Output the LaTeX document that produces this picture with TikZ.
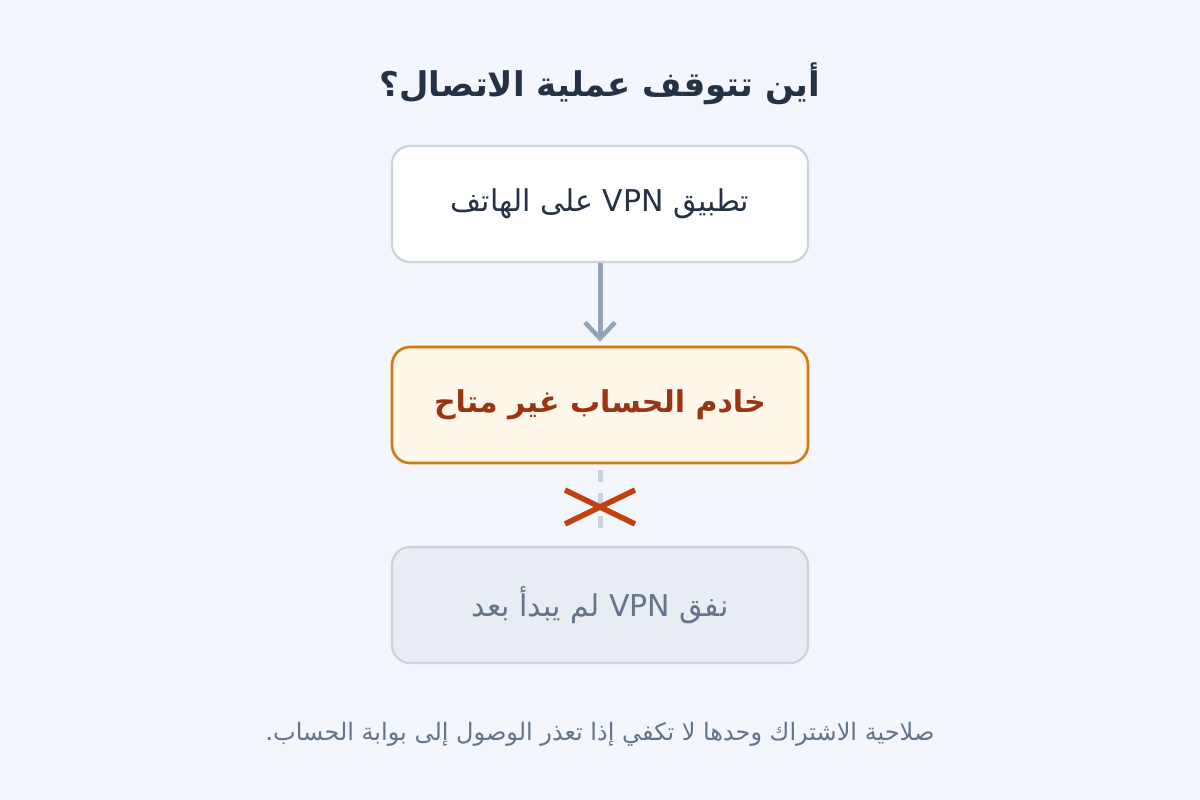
\documentclass[tikz,border=0pt]{standalone}
\usepackage{fontspec}
\usepackage{tikz}
\usetikzlibrary{arrows.meta}
\usetikzlibrary{positioning}
\setmainfont{DejaVu Sans}
\newfontfamily\arabicfont[Script=Arabic]{DejaVu Sans}
\TeXXeTstate=1
\definecolor{bgcol}{HTML}{F3F6FC}
\definecolor{titlecol}{HTML}{253246}
\definecolor{edgecol}{HTML}{CBD3DF}
\definecolor{arrowcol}{HTML}{94A3B8}
\definecolor{warnfill}{HTML}{FFF7EA}
\definecolor{warnedge}{HTML}{D07A14}
\definecolor{warntext}{HTML}{9A3412}
\definecolor{idlefill}{HTML}{E8EDF3}
\definecolor{idletext}{HTML}{64748B}
\definecolor{crosscol}{HTML}{C2410C}

\begin{document}
\begin{tikzpicture}[x=1pt,y=-1pt]
\tikzset{every node/.style={font=\arabicfont}}
\tikzset{stage/.style={draw=edgecol, line width=2.2pt, rounded corners=18pt, minimum width=416pt, minimum height=116pt, inner sep=0pt, fill=white, text=titlecol, font=\arabicfont\fontsize{30}{36}\selectfont}}
\tikzset{warnstage/.style={stage, draw=warnedge, line width=2.6pt, fill=warnfill, text=warntext, font=\arabicfont\bfseries\fontsize{30}{36}\selectfont}}
\tikzset{idlestage/.style={stage, fill=idlefill, text=idletext}}
\tikzset{flow/.style={draw=arrowcol, line width=5pt, -{Straight Barb[length=16pt, width=30pt, line width=4.5pt]}}}
\tikzset{broken/.style={draw=edgecol, line width=5pt, dash pattern=on 12pt off 11pt}}
\tikzset{cross/.style={draw=crosscol, line width=5.5pt}}
\fill[bgcol] (0,0) rectangle (1200,800);
\useasboundingbox (0,0) rectangle (1200,800);
\node[font=\arabicfont\bfseries\fontsize{34}{40}\selectfont, text=titlecol] (title) at (600,84) {\beginR أين تتوقف عملية الاتصال؟\endR};
\node[stage] (app) at (600,204) {\beginR تطبيق \beginL VPN\endL{} على الهاتف\endR};
\node[warnstage] (server) at (600,405) {\beginR خادم الحساب غير متاح\endR};
\node[idlestage] (tunnel) at (600,605) {\beginR نفق \beginL VPN\endL{} لم يبدأ بعد\endR};
\node[font=\arabicfont\fontsize{24}{30}\selectfont, text=idletext] (note) at (600,734) {\beginR صلاحية الاشتراك وحدها لا تكفي إذا تعذر الوصول إلى بوابة الحساب.\endR};
% connectors
\draw[flow] (app.south) -- ([yshift=4pt]server.north);
\draw[broken] ([yshift=-6pt]server.south) -- ([yshift=17pt]tunnel.north);
\coordinate (stop) at (600,507);
\draw[cross] ([shift={(-35,-17)}]stop) -- ([shift={(35,17)}]stop);
\draw[cross] ([shift={(-35,17)}]stop) -- ([shift={(35,-17)}]stop);
\end{tikzpicture}
\end{document}
